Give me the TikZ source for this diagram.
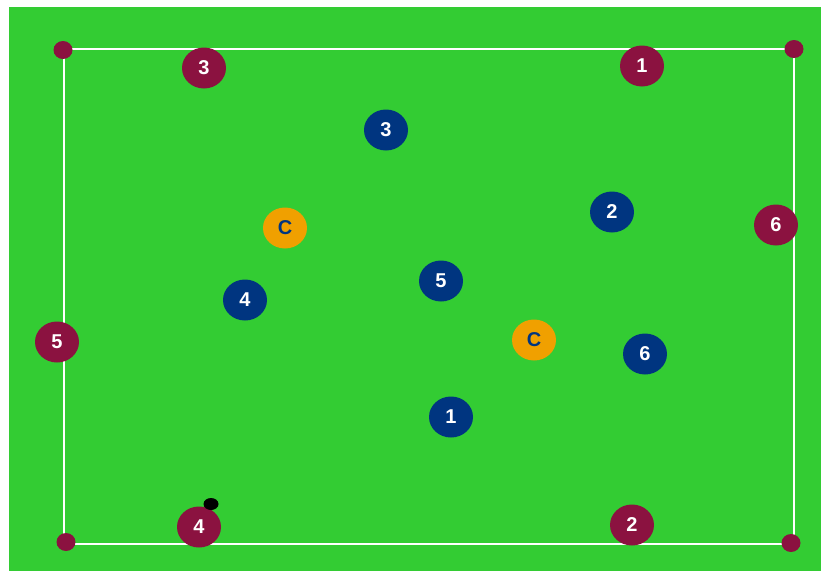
\documentclass[tikz,border=0pt]{standalone}
\usepackage{fontspec}
\setmainfont{Liberation Sans}
\definecolor{pitchgreen}{rgb}{0.2,0.8,0.2}
\definecolor{teamred}{rgb}{0.545,0.071,0.251}
\definecolor{teamblue}{rgb}{0.0,0.208,0.502}
\definecolor{coachorange}{rgb}{0.941,0.627,0.0}

\tikzset{
  player/.style={ellipse,minimum width=44pt,minimum height=41pt,inner sep=0pt,
    font=\fontsize{20}{24}\selectfont\bfseries,text=white},
  redplayer/.style={player,fill=teamred},
  blueplayer/.style={player,fill=teamblue},
  coach/.style={player,fill=coachorange,text=teamblue},
  cone/.style={ellipse,fill=teamred,minimum width=19pt,minimum height=18pt,inner sep=0pt},
}
\usetikzlibrary{shapes.geometric}

\begin{document}
\begin{tikzpicture}[x=1pt,y=-1pt]
\useasboundingbox (0,0) rectangle (821,571);
\fill[pitchgreen] (9,7) rectangle (821,571);
% pitch lines
\coordinate (tl) at (64,49);
\coordinate (tr) at (794,49);
\coordinate (br) at (794,544);
\coordinate (bl) at (64,544);
\draw[white,line width=2.2pt] (tl) -- (tr) -- (br) -- (bl) -- cycle;
% corner cones
\node[cone] (c1) at (63,50) {};
\node[cone] (c2) at (794,49) {};
\node[cone] (c3) at (791,543) {};
\node[cone] (c4) at (66,542) {};
% red team
\node[redplayer] (r1) at (642,66) {1};
\node[redplayer] (r2) at (632,525) {2};
\node[redplayer] (r3) at (204,68) {3};
\node[redplayer] (r4) at (199,527) {4};
\node[redplayer] (r5) at (57,342) {5};
\node[redplayer] (r6) at (776,225) {6};
% blue team
\node[blueplayer] (b1) at (451,417) {1};
\node[blueplayer] (b2) at (612,212) {2};
\node[blueplayer] (b3) at (386,130) {3};
\node[blueplayer] (b4) at (245,300) {4};
\node[blueplayer] (b5) at (441,281) {5};
\node[blueplayer] (b6) at (645,354) {6};
% coaches
\node[coach] (k1) at (285,228) {C};
\node[coach] (k2) at (534,340) {C};
% ball
\node[ellipse,fill=black,minimum width=15pt,minimum height=12pt,inner sep=0pt] (ball) at (211,504) {};
\end{tikzpicture}
\end{document}
